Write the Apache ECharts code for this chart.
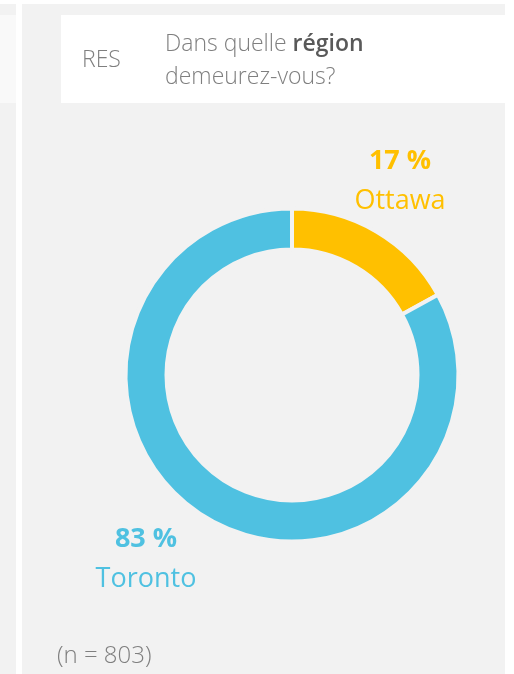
<!DOCTYPE html>
<html>
<head>
<meta charset="utf-8">
<script src="https://cdn.jsdelivr.net/npm/echarts@6/dist/echarts.min.js"></script>
<style>
  html, body { margin: 0; padding: 0; background: #ffffff; }
  #chart { width: 514px; height: 674px; }
</style>
</head>
<body>
<div id="chart"></div>
<script>
// Survey: region of residence
const regions = ['Ottawa', 'Toronto'];
const shares = [17, 83];
const sliceColors = ['#FFC000', '#4FC1E1'];
const sampleSize = 803;
const questionCode = 'RES';

const chart = echarts.init(document.getElementById('chart'), null, { renderer: 'canvas' });

const FONT = '"Open Sans", sans-serif';
const panelGray = '#f2f2f2';

const pieData = regions.map((name, i) => ({
  name: name,
  value: shares[i],
  itemStyle: { color: sliceColors[i] },
  label: {
    rich: {
      p: { fontFamily: FONT, fontSize: 27, fontWeight: 'bold', color: sliceColors[i], lineHeight: 40, align: 'center' },
      n: { fontFamily: FONT, fontSize: 27, fontWeight: 'normal', color: sliceColors[i], lineHeight: 40, align: 'center' }
    }
  }
}));

// label anchor points for each slice
const labelAnchors = [[400, 181], [146, 559]];

chart.setOption({
  backgroundColor: '#ffffff',
  animation: false,
  graphic: [
    // left neighbouring panel
    { type: 'rect', shape: { x: 0, y: 4, width: 16, height: 670 }, style: { fill: panelGray }, z: 0 },
    { type: 'rect', shape: { x: 0, y: 15, width: 16, height: 88 }, style: { fill: '#f9f9f9' }, z: 1 },
    // main panel
    { type: 'rect', shape: { x: 22, y: 4, width: 483, height: 670 }, style: { fill: panelGray }, z: 0 },
    // question header box
    { type: 'rect', shape: { x: 61, y: 15, width: 453, height: 88 }, style: { fill: '#ffffff' }, z: 1 },
    { type: 'text', x: 82, y: 60, z: 2,
      style: { text: questionCode, font: '300 23px ' + FONT, fill: '#7f7f7f', textVerticalAlign: 'middle' } },
    { type: 'text', x: 165, y: 28, z: 2,
      style: {
        text: '{a|Dans quelle }{b|région}\n{a|demeurez-vous?}',
        rich: {
          a: { fontFamily: FONT, fontSize: 23, fontWeight: 300, fill: '#7f7f7f', lineHeight: 33 },
          b: { fontFamily: FONT, fontSize: 23, fontWeight: 600, fill: '#595959', lineHeight: 33 }
        }
      } },
    // sample size note
    { type: 'text', x: 57, y: 656, z: 2,
      style: { text: '(n = ' + sampleSize + ')', font: '300 24px ' + FONT, fill: '#7f7f7f', textVerticalAlign: 'middle' } }
  ],
  series: [{
    type: 'pie',
    center: [292, 375],
    radius: [125.5, 166.5],
    startAngle: 90,
    clockwise: true,
    silent: true,
    itemStyle: { borderColor: panelGray, borderWidth: 4 },
    label: {
      show: true,
      position: 'outside',
      overflow: 'none',
      width: 200,
      formatter: p => '{p|' + p.value + ' %}\n{n|' + p.name + '}',
      align: 'center'
    },
    labelLine: { show: false },
    labelLayout: params => ({
      x: labelAnchors[params.dataIndex][0],
      y: labelAnchors[params.dataIndex][1],
      align: 'center',
      verticalAlign: 'middle'
    }),
    data: pieData,
    z: 3
  }]
});
</script>
</body>
</html>
